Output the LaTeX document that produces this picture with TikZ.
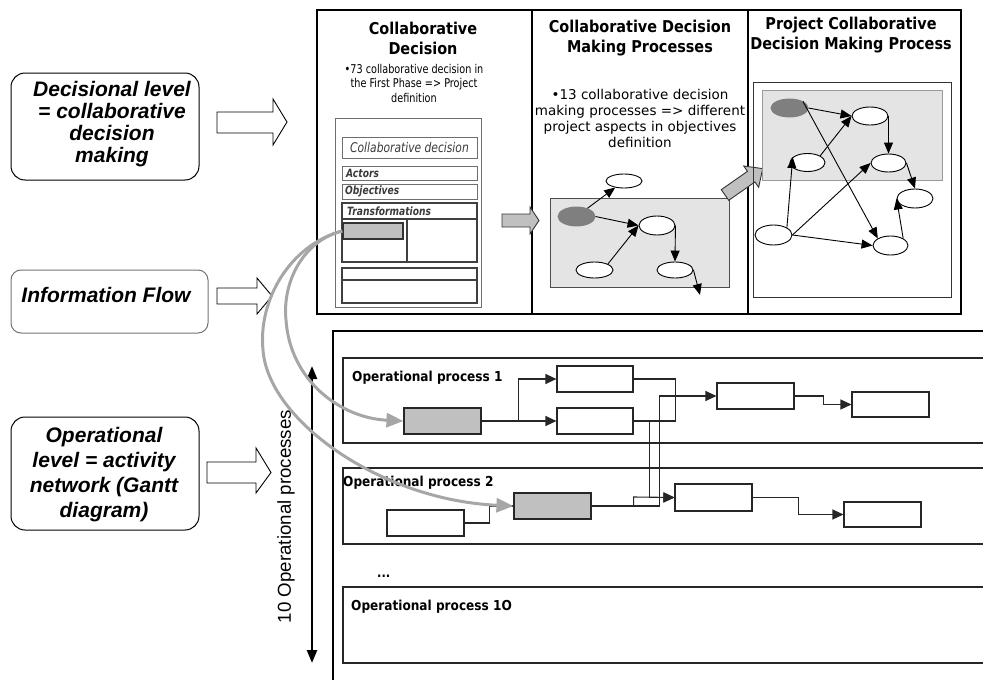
\documentclass[tikz,border=0pt]{standalone}
\usepackage{fontspec}
\usetikzlibrary{arrows.meta,shapes.geometric}
\setmainfont{DejaVu Sans}
\newfontfamily\hdfam[FakeStretch=0.885]{DejaVu Sans}
\newfontfamily\smfam[FakeStretch=0.8]{DejaVu Sans}
\newfontfamily\arfam{Liberation Sans}
\definecolor{boxgray}{HTML}{C0C0C0}
\definecolor{ellgray}{HTML}{7F7F7F}
\definecolor{shade}{HTML}{E4E4E4}
\definecolor{curvegray}{HTML}{A6A6A6}
\definecolor{cardline}{HTML}{6E6E6E}
\definecolor{cardtext}{HTML}{3A3A3A}
\begin{document}
\begin{tikzpicture}[x=1pt,y=-1pt,
 frame/.style={draw=black, line width=1.6pt},
 lane/.style={draw=black!85, line width=1.3pt},
 act/.style={rectangle, draw=black!85, line width=1.1pt, fill=white, inner sep=0pt, minimum width=77pt, minimum height=26pt},
 gact/.style={act, fill=boxgray},
 ell/.style={ellipse, draw=black, line width=0.9pt, fill=white, inner sep=0pt, minimum width=36pt, minimum height=18pt},
 gell/.style={ell, draw=ellgray, fill=ellgray},
 arr/.style={line width=0.9pt, -{Triangle[length=11pt,width=9pt]}},
 larr/.style={line width=1.1pt, draw=black!85, -{Triangle[length=11pt,width=10pt]}},
 lconn/.style={line width=1.1pt, draw=black!85},
 hollow/.style={draw=black, line width=0.9pt, fill=white},
 garrow/.style={draw=black!80, line width=0.9pt, fill=boxgray},
 gcurve/.style={draw=curvegray, line width=3pt, -{Triangle[length=17pt,width=14pt]}},
 lbox/.style={rectangle, draw=black, line width=1pt, rounded corners=14pt, inner sep=0pt},
 ltext/.style={font=\arfam\bfseries\itshape\fontsize{21}{22}\selectfont, align=center, inner sep=0pt},
 head/.style={font=\hdfam\bfseries\fontsize{16.3}{20}\selectfont, align=center, inner sep=0pt},
 lanelbl/.style={font=\hdfam\bfseries\fontsize{13.7}{16}\selectfont, anchor=west, inner sep=0pt},
 cardbox/.style={draw=cardline, line width=1pt},
 cardthick/.style={draw=black!75, line width=1.8pt},
 cardlbl/.style={font=\smfam\bfseries\itshape\fontsize{11.4}{13}\selectfont, text=cardtext, inner sep=0pt},
]
\useasboundingbox (0,0) rectangle (983,680);

% ---------- left column ----------
\node[lbox, minimum width=188pt, minimum height=107pt] (bdec) at (105,126.5) {};
\node[ltext] (tdec) at (112,124) {Decisional level\\= collaborative\\decision\\making};
\node[lbox, draw=black!55, rounded corners=10pt, minimum width=197pt, minimum height=63pt] (binf) at (109.5,301.5) {};
\node[ltext] (tinf) at (106,295) {Information Flow};
\node[lbox, minimum width=188pt, minimum height=113pt] (bop) at (105,473.5) {};
\node[ltext, font=\arfam\bfseries\itshape\fontsize{21}{25}\selectfont] (top) at (104,474.5) {Operational\\level = activity\\network (Gantt\\diagram)};

\draw[hollow] (217,112) -- (273,112) -- (273,99) -- (287,122) -- (273,145) -- (273,133) -- (217,133) -- cycle;
\draw[hollow] (217,288) -- (257,288) -- (257,278) -- (272,296) -- (257,314) -- (257,304) -- (217,304) -- cycle;
\draw[hollow] (207,462) -- (256,462) -- (256,448) -- (271,472.5) -- (256,493) -- (256,483) -- (207,483) -- cycle;

% ---------- top frame ----------
\draw[frame] (317,10) rectangle (961,314);
\draw[frame] (532,10) -- (532,314);
\draw[frame] (748,10) -- (748,314);

\node[head] (h1) at (423,38) {Collaborative\\Decision};
\node[head] (h2) at (640,38) {Collaborative Decision\\Making Processes};
\node[head] (h3) at (851,35) {Project Collaborative\\Decision Making Process};

\node[font=\smfam\fontsize{12.1}{14.5}\selectfont, align=center, inner sep=0pt] (t1) at (414,83) {•73 collaborative decision in\\the First Phase => Project\\definition};
\node[font=\fontsize{13.5}{16}\selectfont, align=center, inner sep=0pt] (t2) at (640,118) {•13 collaborative decision\\making processes => different\\project aspects in objectives\\definition};

% ---------- card in column 1 ----------
\draw[cardbox] (335,118) rectangle (481,307);
\draw[cardbox] (342,137) rectangle (477,158);
\draw[cardbox] (342,166) rectangle (477,180);
\draw[cardbox] (342,184) rectangle (477,199);
\draw[cardthick] (342,203) rectangle (477,262);
\draw[cardthick] (342,219) -- (477,219);
\draw[cardthick] (407,219) -- (407,262);
\draw[cardthick] (342,268) rectangle (477,303);
\draw[cardthick] (342,280) -- (477,280);
\node[rectangle, draw=black!80, line width=1.6pt, fill=boxgray, minimum width=60pt, minimum height=16pt, inner sep=0pt] (tg) at (373,231) {};
\node[cardlbl, font=\smfam\itshape\fontsize{13.4}{14}\selectfont] (cl0) at (409.5,148) {Collaborative decision};
\node[cardlbl, anchor=west] (cl1) at (346,173.5) {Actors};
\node[cardlbl, anchor=west] (cl2) at (345,191.5) {Objectives};
\node[cardlbl, anchor=west] (cl3) at (347,211) {Transformations};

\draw[garrow] (502,214) -- (530,214) -- (530,207) -- (539,220.5) -- (530,234) -- (530,227) -- (502,227) -- cycle;

% ---------- column 2 graph ----------
\node[draw=black!70, line width=0.8pt, fill=shade, minimum width=179pt, minimum height=89pt, inner sep=0pt] (sh2) at (639.5,242.5) {};
\node[ell, minimum height=14pt] (t2e) at (624,181) {};
\node[gell, minimum width=37pt, minimum height=19pt] (g2) at (576.5,216.5) {};
\node[ell, minimum height=19pt] (m2) at (657,225.5) {};
\node[ell, minimum width=37pt, minimum height=16pt] (bl2) at (594.5,270) {};
\node[ell, minimum height=16pt] (br2) at (675,270) {};
\coordinate (o2) at (700,295);
\draw[arr] (g2) -- (t2e);
\draw[arr] (g2.east) -- (m2.west);
\draw[arr] (bl2.north east) -- (m2.west);
\draw[arr] (m2.east) -- (br2.north);
\draw[arr] (br2.east) -- (o2);

\begin{scope}[shift={(725,195)}, rotate=35]
\draw[garrow] (0,-6.5) -- (32,-6.5) -- (32,-13) -- (46,0) -- (32,13) -- (32,6.5) -- (0,6.5) -- cycle;
\end{scope}

% ---------- column 3 graph ----------
\node[draw=black!80, line width=1pt, minimum width=198pt, minimum height=215pt, inner sep=0pt] (fr3) at (852,189.5) {};
\node[draw=black!40, line width=0.6pt, fill=shade, minimum width=180pt, minimum height=90pt, inner sep=0pt] (sh3) at (852,135) {};
\node[gell, minimum width=37pt] (g3) at (789.5,108) {};
\node[ell] (e1) at (870,116) {};
\node[ell, minimum width=35pt] (e2) at (807.5,162.5) {};
\node[ell, minimum width=35pt] (e3) at (888.5,163) {};
\node[ell, minimum height=19pt] (e4) at (915,198.5) {};
\node[ell, minimum width=37pt, minimum height=20pt] (e5) at (773.5,235) {};
\node[ell, minimum width=35pt, minimum height=19pt] (e6) at (890.5,245.5) {};
\draw[arr] (g3.east) -- (e1.west);
\draw[arr] (g3.north east) -- (e6.north west);
\draw[arr] (e2.north east) -- (e1.west);
\draw[arr] (e1.east) -- (e3.north);
\draw[arr] (e3.east) -- (e4.north);
\draw[arr] (e5.north east) -- (e2.160);
\draw[arr] (e5.east) -- (e3.west);
\draw[arr] (e5.east) -- (e6.west);
\draw[arr] (e6.north east) -- (e4.west);

% ---------- operational level ----------
\draw[frame] (983,331) -- (333,331) -- (333,680);
\draw[lane] (983,358) -- (343,358) -- (343,443) -- (983,443);
\draw[lane] (983,468) -- (343,468) -- (343,544) -- (983,544);
\draw[lane] (983,587) -- (343,587) -- (343,663) -- (983,663);

\node[lanelbl] (lp1) at (352,378) {Operational process 1};
\node[lanelbl] (lp2) at (343,483) {Operational process 2};
\node[lanelbl] (lp10) at (351,607) {Operational process 1O};
\node[lanelbl, font=\hdfam\bfseries\fontsize{13}{16}\selectfont] (dots) at (377,576) {...};

\node[gact] (a1) at (442.5,421) {};
\node[act, minimum width=76pt] (b1) at (595,379) {};
\node[act, minimum width=76pt] (b2) at (595,421) {};
\node[act] (c1) at (755.5,396) {};
\node[act, minimum height=25pt] (d1) at (890.5,404.5) {};
\node[gact] (a2) at (552.5,506) {};
\node[act] (w2) at (425.5,523) {};
\node[act, minimum height=27pt] (c2) at (713.5,497.5) {};
\node[act, minimum height=25pt] (d2) at (882.5,514.5) {};

\draw[larr] (a1.east) -- ++(37,0) |- (b1.west);
\draw[larr] (a1.east) -- (b2.west);
\draw[lconn] (b1.east) -- ++(42,0) |- (b2.east);
\draw[larr] (b2.east) -- ++(16,0) |- (c2.west);
\draw[larr] (a2.east) -- ++(68,0) |- (c1.west);
\draw[larr] (a2.east) -- ++(42,0) -- ++(0,-9) -- (c2.west);
\draw[lconn] (w2.east) -- ++(25,0) |- (a2.west);
\draw[larr] (c1.east) -- ++(29,0) |- (d1.west);
\draw[larr] (c2.east) -- ++(46,0) |- (d2.west);

\coordinate (vt) at (312,366);
\coordinate (vb) at (312,663);
\draw[line width=2.4pt, {Triangle[length=13pt,width=10pt]}-{Triangle[length=13pt,width=10pt]}] (vt) -- (vb);
\node[font=\arfam\fontsize{18.7}{20}\selectfont, rotate=90, inner sep=0pt] (vl) at (286,516.5) {10 Operational processes};

% ---------- gray information-flow curves ----------
\draw[gcurve] (tg.west) .. controls (305,240) and (282,280) .. (286,320) .. controls (290,380) and (340,418) .. (a1.west);
\draw[gcurve] (tg.west) .. controls (290,245) and (258,300) .. (263,350) .. controls (268,420) and (380,500) .. (a2.west);
\end{tikzpicture}
\end{document}
